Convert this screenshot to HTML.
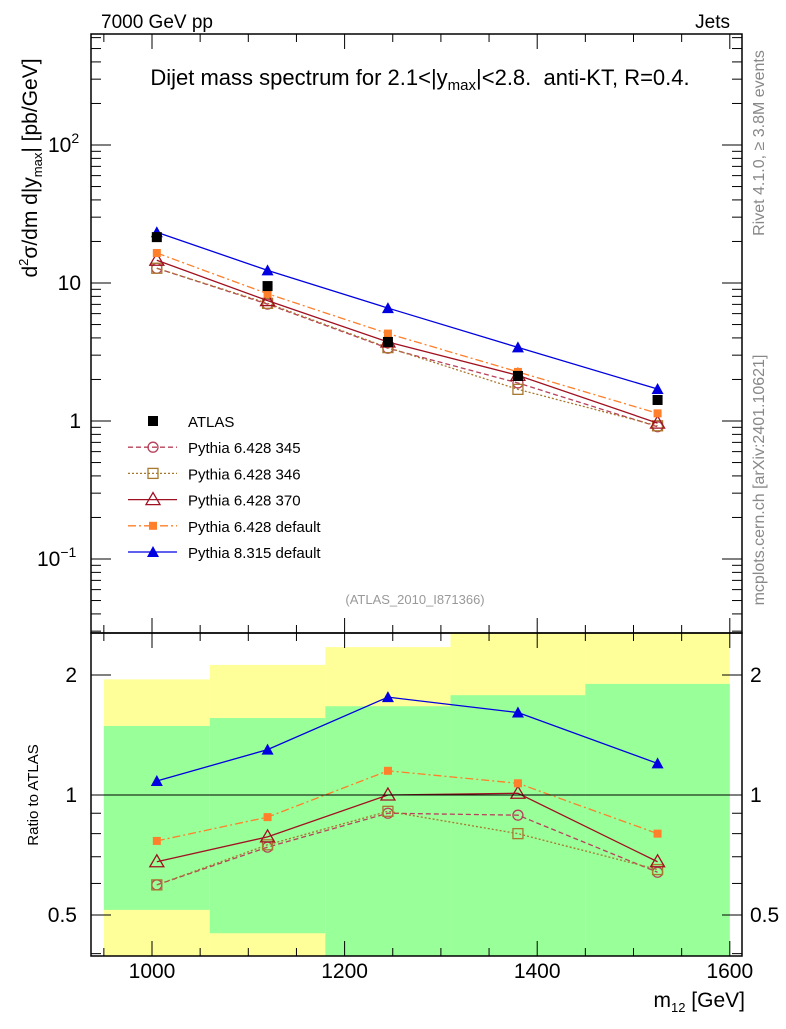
<!DOCTYPE html>
<html><head><meta charset="utf-8"><style>
body{margin:0;background:#fff;}
svg text{font-family:"Liberation Sans",sans-serif;white-space:pre;}
</style></head><body>
<svg id="c" width="786" height="1024" xmlns="http://www.w3.org/2000/svg">
<g id="bands"></g>
<g id="lines"></g>
<g id="axes"></g>
<text x="101" y="28" font-size="19">7000 GeV pp</text>
<text x="730" y="28" font-size="19" text-anchor="end">Jets</text>
<text x="420" y="85" font-size="22" text-anchor="middle" xml:space="preserve">Dijet mass spectrum for 2.1&lt;|y<tspan font-size="15" dy="5">max</tspan><tspan dy="-5">|&lt;2.8.  anti-KT, R=0.4.</tspan></text>
<text x="415" y="604" font-size="13" fill="#999" text-anchor="middle">(ATLAS_2010_I871366)</text>
<text transform="translate(37,168) rotate(-90)" font-size="21" text-anchor="middle">d<tspan font-size="13" dy="-9">2</tspan><tspan dy="9">σ/dm d|y</tspan><tspan font-size="13" dy="5">max</tspan><tspan dy="-5">| [pb/GeV]</tspan></text>
<text transform="translate(38,795) rotate(-90)" font-size="15" text-anchor="middle">Ratio to ATLAS</text>
<text x="745" y="1007" font-size="21" text-anchor="end">m<tspan font-size="13" dy="5">12</tspan><tspan dy="-5"> [GeV]</tspan></text>
<text transform="translate(764,143) rotate(-90)" font-size="16" fill="#888" text-anchor="middle">Rivet 4.1.0, ≥ 3.8M events</text>
<text transform="translate(764,480) rotate(-90)" font-size="16" fill="#888" text-anchor="middle">mcplots.cern.ch [arXiv:2401.10621]</text>
<g id="legend"></g>
</svg>
<script>
const masses=[1005,1120,1245,1380,1525];
const atlas=[21.5,9.5,3.74,2.12,1.42];
const r345=[0.595,0.74,0.90,0.89,0.64];
const r346=[0.595,0.75,0.91,0.80,0.65];
const r370=[0.68,0.785,1.0,1.01,0.68];
const rdef=[0.767,0.88,1.15,1.07,0.80];
const r8=[1.084,1.30,1.76,1.61,1.20];
const binEdges=[950,1060,1180,1310,1450,1600];
const greenLo=[0.515,0.45,0.3,0.3,0.3];
const greenHi=[1.49,1.56,1.67,1.78,1.90];
const yellowLo=[0.3,0.3,0.3,0.3,0.3];
const yellowHi=[1.95,2.12,2.35,2.7,2.7];
const mainTicks=["10^-1","1","10","10^2"];
const ratioTicks=[0.5,1,2];
const xTicks=[1000,1200,1400,1600];

const NS="http://www.w3.org/2000/svg";
const L=91,R=742,T=34,MB=633,RB=956;
const X=m=>152+(m-1000)*0.963;
const YM=v=>421-138*Math.log10(v);
const YR=r=>795-120*Math.log2(r);
function mk(p,tag,a){const e=document.createElementNS(NS,tag);for(const k in a)e.setAttribute(k,a[k]);p.appendChild(e);return e;}
const bands=document.getElementById('bands'),lines=document.getElementById('lines'),axes=document.getElementById('axes'),leg=document.getElementById('legend');
function clampY(y){return Math.max(MB,Math.min(RB,y));}
for(let i=0;i<5;i++){
 const x0=Math.max(X(binEdges[i]),L+1),x1=Math.min(X(binEdges[i+1]),R-1);
 const y1=mk(bands,'rect',{x:x0,y:clampY(YR(yellowHi[i])),width:x1-x0,height:clampY(YR(yellowLo[i]))-clampY(YR(yellowHi[i])),fill:'#ffff99'});
 
 
 const g1=mk(bands,'rect',{x:x0,y:clampY(YR(greenHi[i])),width:x1-x0,height:clampY(YR(greenLo[i]))-clampY(YR(greenHi[i])),fill:'#99ff99'});
 
 
}
mk(axes,'line',{x1:L,x2:R,y1:YR(1),y2:YR(1),stroke:'#000','stroke-width':1});
const series=[
 {n:'Pythia 6.428 345',r:r345,c:'#b8405a',d:'5,3',m:'circle'},
 {n:'Pythia 6.428 346',r:r346,c:'#a8782e',d:'2,2',m:'square'},
 {n:'Pythia 6.428 370',r:r370,c:'#a01020',d:'',m:'tri'},
 {n:'Pythia 6.428 default',r:rdef,c:'#ff7f2a',d:'8,3,2,3',m:'fsq'},
 {n:'Pythia 8.315 default',r:r8,c:'#0000e0',d:'',m:'ftri'}];
function marker(p,m,x,y,c){
 let e;
 if(m==='circle')e=mk(p,'circle',{cx:x,cy:y,r:5,fill:'none',stroke:c,'stroke-width':1.3});
 else if(m==='square')e=mk(p,'rect',{x:x-5,y:y-5,width:10,height:10,fill:'none',stroke:c,'stroke-width':1.3});
 else if(m==='fsq')e=mk(p,'rect',{x:x-4,y:y-4,width:8,height:8,fill:c});
 else if(m==='bsq')e=mk(p,'rect',{x:x-5,y:y-5,width:10,height:10,fill:'#000'});
 else if(m==='tri')e=mk(p,'polygon',{points:`${x},${y-7} ${x-7},${y+5} ${x+7},${y+5}`,fill:'none',stroke:c,'stroke-width':1.3});
 else e=mk(p,'polygon',{points:`${x},${y-6} ${x-6},${y+5} ${x+6},${y+5}`,fill:c});
 return e;
}
series.forEach((s,k)=>{
 const vals=atlas.map((a,i)=>a*s.r[i]);
 const pm=mk(lines,'polyline',{points:masses.map((m,i)=>X(m)+','+YM(vals[i])).join(' '),fill:'none',stroke:s.c,'stroke-width':1.3,'stroke-dasharray':s.d});
 
 
 const pr=mk(lines,'polyline',{points:masses.map((m,i)=>X(m)+','+YR(s.r[i])).join(' '),fill:'none',stroke:s.c,'stroke-width':1.3,'stroke-dasharray':s.d});
 
 
 masses.forEach((m,i)=>{
  const a=marker(lines,s.m,X(m),YM(vals[i]),s.c);
  
  
  const b=marker(lines,s.m,X(m),YR(s.r[i]),s.c);
  
  
 });
});
masses.forEach((m,i)=>{
 const a=marker(lines,'bsq',X(m),YM(atlas[i]),'#000');
 
 
});
const rows=[{n:'ATLAS',m:'bsq',c:'#000',d:null}].concat(series);
rows.forEach((s,k)=>{
 const y=421+26.2*k;
 if(s.d!==null&&s.d!==undefined)mk(leg,'line',{x1:128,x2:177,y1:y,y2:y,stroke:s.c,'stroke-width':1.3,'stroke-dasharray':s.d});
 marker(leg,s.m,153,y,s.c);
 const t=mk(leg,'text',{x:188,y:y+6,'font-size':15});t.textContent=s.n;
 
 
});
mk(axes,'rect',{x:L,y:T,width:R-L,height:MB-T,fill:'none',stroke:'#000','stroke-width':1.5});
mk(axes,'rect',{x:L,y:MB,width:R-L,height:RB-MB,fill:'none',stroke:'#000','stroke-width':1.5});
for(let d=-2;d<=3;d++)for(let j=1;j<10;j++){
 const y=YM(j*Math.pow(10,d));if(y<T||y>MB)continue;
 const len=j===1?20:10;
 mk(axes,'line',{x1:L,x2:L+len,y1:y,y2:y,stroke:'#000'});
 mk(axes,'line',{x1:R,x2:R-len,y1:y,y2:y,stroke:'#000'});
}
mainTicks.forEach(s=>{
 const p=s.split('^');const v=p.length>1?Math.pow(10,+p[1]):+s;const y=YM(v);
 const t=mk(axes,'text',{x:81,y:y+7,'font-size':21,'text-anchor':'end'});
 if(p.length>1){
  t.setAttribute('x',p[1]==='-1'?37:48);t.setAttribute('text-anchor','start');
  t.textContent=p[0];const ts=mk(t,'tspan',{'font-size':14,dy:-9});ts.textContent=p[1]==='-1'?'−1':p[1];
 } else t.textContent=s;
});
[0.4,0.5,0.6,0.7,0.8,0.9,1,2].forEach(r=>{
 const y=YR(r);if(y<MB||y>RB)return;const len=(r===0.5||r===1||r===2)?20:10;
 mk(axes,'line',{x1:L,x2:L+len,y1:y,y2:y,stroke:'#000'});
 mk(axes,'line',{x1:R,x2:R-len,y1:y,y2:y,stroke:'#000'});
});
ratioTicks.forEach(r=>{
 const y=YR(r);
 const a=mk(axes,'text',{x:77,y:y+7,'font-size':21,'text-anchor':'end'});a.textContent=String(r);
 const b=mk(axes,'text',{x:750,y:y+7,'font-size':21});b.textContent=String(r);
});
for(let m=950;m<=1620;m+=50){
 const x=X(m);if(x<L||x>R)continue;const len=m%200===0?15:8;
 mk(axes,'line',{x1:x,x2:x,y1:MB,y2:MB-len,stroke:'#000'});
 mk(axes,'line',{x1:x,x2:x,y1:T,y2:T+len,stroke:'#000'});
 mk(axes,'line',{x1:x,x2:x,y1:RB,y2:RB-len,stroke:'#000'});
 mk(axes,'line',{x1:x,x2:x,y1:MB,y2:MB+len,stroke:'#000'});
}
xTicks.forEach(m=>{const t=mk(axes,'text',{x:X(m),y:978,'font-size':21,'text-anchor':'middle'});t.textContent=m;});
</script>
</body></html>
